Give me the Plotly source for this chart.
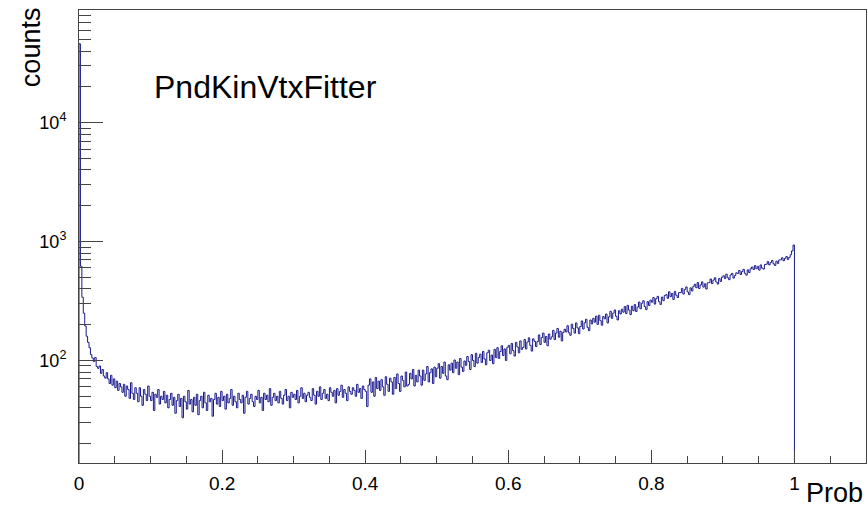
import numpy as np
import plotly.graph_objects as go

# ---------------- data ----------------
bin_width = 0.002   # histogram bin width in Prob
counts = [
    46000, 620, 340, 250, 195, 160, 142, 128, 112, 105,
    98, 106, 89, 86, 90, 78, 84, 74, 71, 79,
    70, 64, 75, 62, 70, 59, 67, 56, 64, 60,
    54, 63, 50, 61, 57, 48, 65, 53, 47, 59,
    53, 45, 59, 50, 42, 57, 52, 46, 61, 50,
    46, 54, 38, 52, 49, 57, 43, 50, 47, 55,
    44, 51, 40, 47, 53, 42, 49, 36, 46, 52,
    41, 48, 33, 50, 45, 39, 56, 43, 47, 37,
    49, 42, 52, 35, 46, 50, 40, 54, 44, 38,
    51, 45, 48, 34, 47, 53, 43, 49, 41, 55,
    46, 50, 39, 52, 44, 48, 57, 42, 50, 45,
    40, 53, 47, 44, 51, 36, 49, 55, 43, 48,
    52, 45, 41, 50, 47, 56, 44, 49, 38, 53,
    47, 51, 45, 58, 42, 49, 53, 46, 50, 44,
    55, 48, 43, 51, 57, 46, 50, 40, 54, 49,
    52, 47, 56, 44, 50, 59, 48, 53, 45, 51,
    54, 49, 46, 58, 51, 43, 55, 50, 60, 47,
    53, 57, 48, 52, 46, 59, 54, 50, 56, 44,
    58, 51, 55, 62, 49, 57, 53, 46, 60, 55,
    52, 59, 56, 50, 63, 54, 58, 48, 61, 57,
    55, 41, 62, 70, 54, 66, 50, 72, 58, 67,
    56, 69, 60, 51, 73, 63, 55, 71, 66, 52,
    72, 58, 77, 64, 55, 74, 68, 60, 80, 61,
    63, 78, 70, 84, 61, 75, 66, 83, 74, 62,
    83, 68, 77, 89, 66, 79, 85, 64, 88, 73,
    86, 94, 71, 89, 78, 97, 74, 69, 92, 83,
    95, 79, 101, 86, 97, 76, 104, 88, 81, 99,
    91, 108, 98, 84, 112, 100, 89, 115, 95, 106,
    113, 96, 119, 103, 92, 116, 122, 100, 111, 94,
    124, 106, 128, 104, 119, 133, 110, 125, 100, 129,
    134, 114, 139, 121, 109, 142, 130, 116, 146, 124,
    129, 150, 125, 143, 155, 134, 120, 152, 145, 131,
    144, 164, 136, 156, 170, 142, 159, 133, 167, 151,
    158, 179, 150, 170, 186, 157, 176, 146, 172, 183,
    174, 196, 171, 163, 202, 186, 170, 207, 188, 168,
    193, 215, 184, 207, 222, 190, 178, 219, 203, 226,
    210, 236, 201, 240, 216, 198, 234, 224, 246, 207,
    233, 259, 226, 250, 266, 235, 219, 262, 246, 270,
    255, 284, 248, 291, 265, 243, 286, 262, 295, 258,
    281, 310, 272, 303, 318, 284, 268, 312, 290, 322,
    309, 338, 298, 331, 346, 312, 296, 341, 318, 352,
    358, 333, 378, 344, 366, 326, 381, 354, 338, 372,
    372, 404, 362, 395, 415, 377, 358, 408, 384, 420,
    438, 409, 452, 403, 431, 458, 414, 441, 399, 449,
    452, 484, 443, 474, 496, 457, 439, 489, 462, 502,
    515, 488, 532, 497, 478, 524, 540, 493, 518, 546,
    538, 571, 528, 559, 584, 541, 522, 578, 549, 590,
    611, 582, 628, 591, 619, 575, 636, 598, 587, 641,
    645, 678, 636, 667, 694, 650, 630, 684, 655, 700,
    702, 730, 690, 722, 748, 708, 735, 775, 835, 935,
]
x_tick_vals = [0, 0.2, 0.4, 0.6, 0.8, 1]
x_tick_text = ["0", "0.2", "0.4", "0.6", "0.8", "1"]
y_tick_vals = [100, 1000, 10000]
y_tick_text = ["10<sup>2</sup>", "10<sup>3</sup>", "10<sup>4</sup>"]
title_text = "PndKinVtxFitter"
x_title = "Prob"
y_title = "counts"

# ---------------- build step outline ----------------
counts_arr = np.array(counts, dtype=float)
left_edges = np.arange(len(counts_arr)) * bin_width
floor_val = 1e-2  # below the visible range (empty bins)
xs = np.concatenate([[0.0], left_edges, [len(counts_arr) * bin_width]])
ys = np.concatenate([[floor_val], counts_arr, [floor_val]])

y_min_log, y_max_log = 1.138, 4.947
minor_y = [m * 10 ** d for d in range(1, 5) for m in range(2, 10)
           if y_min_log <= np.log10(m * 10 ** d) <= y_max_log]

FONT = "Liberation Sans, Arial, Helvetica, sans-serif"
AX = "#444444"

fig = go.Figure()
fig.add_trace(go.Scatter(
    x=xs, y=ys, mode="lines", line=dict(color="#1a1a8c", width=1, shape="hv"),
    hoverinfo="skip", showlegend=False,
))

fig.update_layout(
    width=868, height=507,
    margin=dict(l=79, r=2, t=10, b=44, autoexpand=False),
    paper_bgcolor="white", plot_bgcolor="white",
    font=dict(family=FONT, color="black"),
    showlegend=False,
)
fig.update_xaxes(
    range=[0, 1.1], showgrid=False, zeroline=False, automargin=False,
    showline=True, linecolor=AX, linewidth=1, mirror=True,
    ticks="inside", ticklen=13, tickcolor=AX, tickwidth=1,
    tickmode="array", tickvals=x_tick_vals, ticktext=x_tick_text,
    tickfont=dict(size=19, family=FONT, color="black"),
    ticklabelstandoff=3,
    minor=dict(ticks="inside", ticklen=7, tickcolor=AX, tickwidth=1,
               tickmode="linear", tick0=0, dtick=0.05, showgrid=False),
)
fig.update_yaxes(
    type="log", range=[y_min_log, y_max_log], showgrid=False, zeroline=False,
    automargin=False,
    showline=True, linecolor=AX, linewidth=1, mirror=True,
    ticks="inside", ticklen=24, tickcolor=AX, tickwidth=1,
    tickmode="array", tickvals=y_tick_vals, ticktext=y_tick_text,
    tickfont=dict(size=18, family=FONT, color="black"),
    ticklabelstandoff=8,
    minor=dict(ticks="inside", ticklen=12, tickcolor=AX, tickwidth=1,
               tickmode="array", tickvals=minor_y, showgrid=False),
)

fig.add_annotation(text=title_text, xref="paper", yref="paper",
                   x=0.2376, y=0.83, xanchor="center", yanchor="middle",
                   showarrow=False, font=dict(size=32, family=FONT, color="black"))
fig.add_annotation(text=x_title, xref="paper", yref="paper",
                   x=0.999, y=-0.067, xanchor="right", yanchor="middle",
                   showarrow=False, font=dict(size=27, family=FONT, color="black"))
fig.add_annotation(text=y_title, xref="paper", yref="paper",
                   x=-0.061, y=0.918, xanchor="center", yanchor="middle",
                   textangle=-90, showarrow=False,
                   font=dict(size=27, family=FONT, color="black"))

fig.write_html("out.html",
               config={"displayModeBar": False},
               post_script="document.body.style.margin='0';"
                           "document.body.style.overflow='hidden';")
